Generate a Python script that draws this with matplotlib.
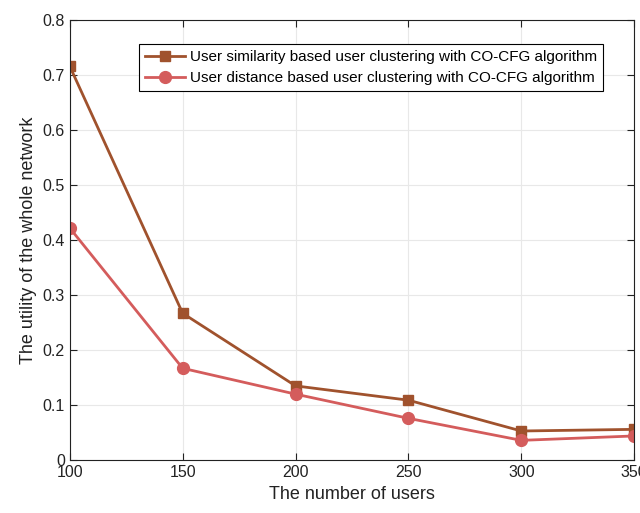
import matplotlib
matplotlib.use('Agg')
import matplotlib.pyplot as plt

plt.rcParams['font.family'] = ['Liberation Sans', 'DejaVu Sans']

users = [100, 150, 200, 250, 300, 350]
similarity = [0.716, 0.267, 0.135, 0.109, 0.053, 0.056]
distance = [0.422, 0.167, 0.120, 0.076, 0.036, 0.044]

fig = plt.figure(figsize=(6.4, 5.13), dpi=100)
ax = fig.add_axes([0.109, 0.103, 0.882, 0.858])

ax.plot(users, similarity, color='#A0522D', lw=2, marker='s', ms=7.5,
        label='User similarity based user clustering with CO-CFG algorithm')
ax.plot(users, distance, color='#D45C5C', lw=2, marker='o', ms=8.5,
        label='User distance based user clustering with CO-CFG algorithm')

ax.set_xlim(100, 350)
ax.set_ylim(0, 0.8)
ax.set_xticks(users)
ax.set_yticks([0, 0.1, 0.2, 0.3, 0.4, 0.5, 0.6, 0.7, 0.8])
ax.set_yticklabels(['0', '0.1', '0.2', '0.3', '0.4', '0.5', '0.6', '0.7', '0.8'])
ax.grid(True, color='#e8e8e8', lw=0.8)
ax.set_axisbelow(True)
ax.tick_params(direction='in', top=True, right=True, labelsize=11.5, colors='#222222', length=5)
for s in ax.spines.values():
    s.set_color('#222222')

ax.set_xlabel('The number of users', fontsize=13, color='#222222')
ax.set_ylabel('The utility of the whole network', fontsize=13, color='#222222')

leg = ax.legend(loc='upper right', bbox_to_anchor=(0.958, 0.962), fontsize=11,
                fancybox=False, edgecolor='black', framealpha=1,
                handlelength=2.6, borderpad=0.4, labelspacing=0.45, handletextpad=0.3)
leg.get_frame().set_linewidth(0.8)

fig.savefig('out.png', dpi=100)
